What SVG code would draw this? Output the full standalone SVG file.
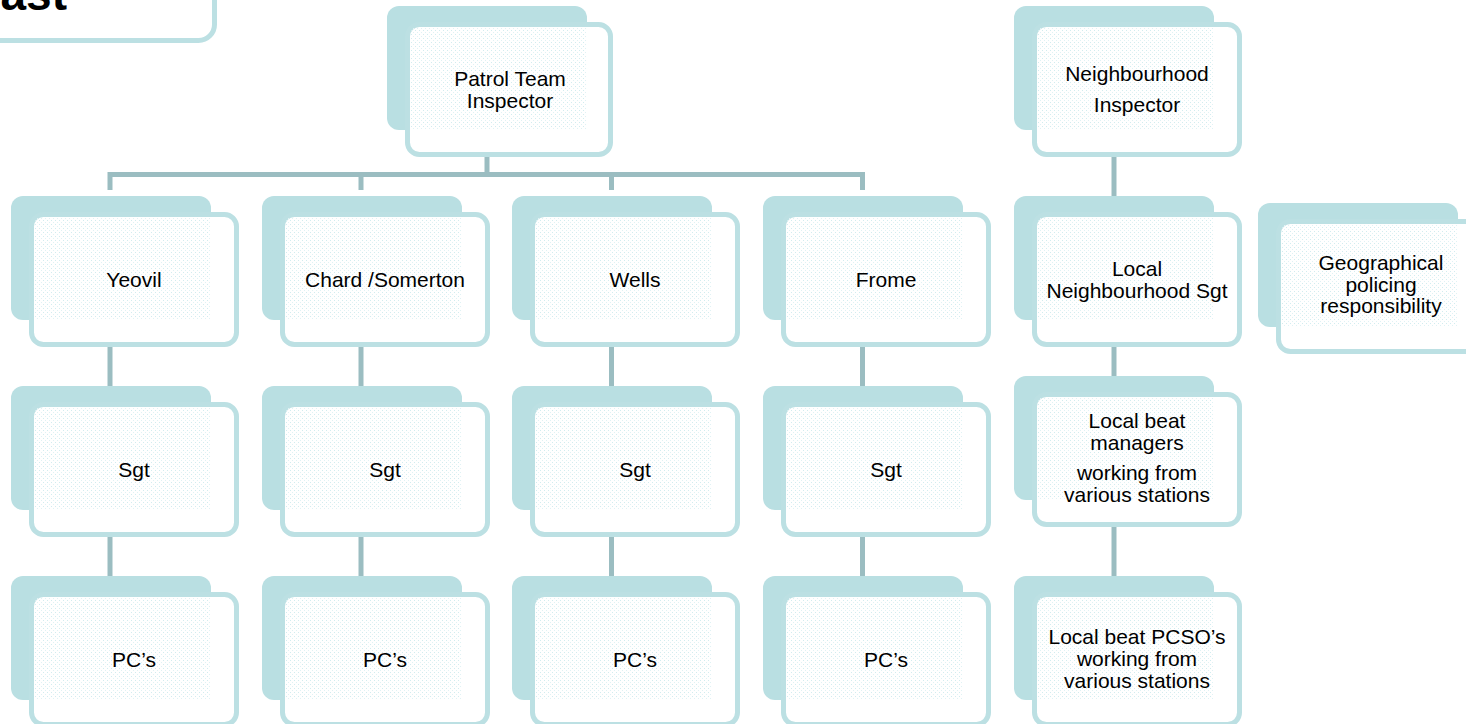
<svg xmlns="http://www.w3.org/2000/svg" width="1466" height="724" viewBox="0 0 1466 724">
<style>
.back{fill:#B9DFE2;}
.front{fill:#FFFFFF;stroke:#BCE0E3;stroke-width:5;}
.tex{fill:url(#dots);}
.lbl{font-family:"Liberation Sans",Arial,sans-serif;font-size:21px;fill:#000;text-anchor:middle;}
.conn{fill:none;stroke:#9BBDC1;stroke-width:5;stroke-linejoin:miter;}
.title{font-family:"Liberation Sans",Arial,sans-serif;font-size:46px;font-weight:bold;fill:#000;text-anchor:end;}
</style>
<defs>
<pattern id="dots" patternUnits="userSpaceOnUse" width="4" height="4">
<rect x="0" y="0" width="1" height="1" fill="#D2ECEF"/>
<rect x="2" y="2" width="1" height="1" fill="#E0F2F4"/>
</pattern>
</defs>
<rect width="1466" height="724" fill="#FFFFFF"/>
<g id="title">
<rect x="-30" y="-100" width="244.5" height="140.5" rx="16" fill="#FFFFFF" stroke="#BCE0E3" stroke-width="5"/>
<text class="title" x="67" y="10">ast</text>
</g>
<g id="connectors">
<path class="conn" d="M487,155 V174.5"/>
<path class="conn" d="M110,190 V174.5 H862.5 V190"/>
<path class="conn" d="M361,174.5 V190"/>
<path class="conn" d="M611.5,174.5 V190"/>
<path class="conn" d="M110,347 V386 M110,537 V576"/>
<path class="conn" d="M361,347 V386 M361,537 V576"/>
<path class="conn" d="M611.5,347 V386 M611.5,537 V576"/>
<path class="conn" d="M862.5,347 V386 M862.5,537 V576"/>
<path class="conn" d="M1114,157 V196 M1114,347 V376 M1114,527 V576"/>
</g>
<g id="patrol" transform="translate(387,6)">
<rect class="back" width="200" height="124" rx="12"/>
<rect class="front" x="20.5" y="18.5" width="203" height="130" rx="12"/>
<rect class="tex" x="23" y="21" width="177" height="103"/>
<text class="lbl" x="123" y="80">Patrol Team</text>
<text class="lbl" x="123" y="102">Inspector</text>
</g>
<g id="yeovil" transform="translate(11,196)">
<rect class="back" width="200" height="124" rx="12"/>
<rect class="front" x="20.5" y="18.5" width="205" height="130" rx="12"/>
<rect class="tex" x="23" y="21" width="177" height="103"/>
<text class="lbl" x="123" y="91">Yeovil</text>
</g>
<g id="chard" transform="translate(262,196)">
<rect class="back" width="200" height="124" rx="12"/>
<rect class="front" x="20.5" y="18.5" width="205" height="130" rx="12"/>
<rect class="tex" x="23" y="21" width="177" height="103"/>
<text class="lbl" x="123" y="91">Chard /Somerton</text>
</g>
<g id="wells" transform="translate(512,196)">
<rect class="back" width="200" height="124" rx="12"/>
<rect class="front" x="20.5" y="18.5" width="205" height="130" rx="12"/>
<rect class="tex" x="23" y="21" width="177" height="103"/>
<text class="lbl" x="123" y="91">Wells</text>
</g>
<g id="frome" transform="translate(763,196)">
<rect class="back" width="200" height="124" rx="12"/>
<rect class="front" x="20.5" y="18.5" width="205" height="130" rx="12"/>
<rect class="tex" x="23" y="21" width="177" height="103"/>
<text class="lbl" x="123" y="91">Frome</text>
</g>
<g id="sgt-yeovil" transform="translate(11,386)">
<rect class="back" width="200" height="124" rx="12"/>
<rect class="front" x="20.5" y="18.5" width="205" height="130" rx="12"/>
<rect class="tex" x="23" y="21" width="177" height="103"/>
<text class="lbl" x="123" y="91">Sgt</text>
</g>
<g id="sgt-chard" transform="translate(262,386)">
<rect class="back" width="200" height="124" rx="12"/>
<rect class="front" x="20.5" y="18.5" width="205" height="130" rx="12"/>
<rect class="tex" x="23" y="21" width="177" height="103"/>
<text class="lbl" x="123" y="91">Sgt</text>
</g>
<g id="sgt-wells" transform="translate(512,386)">
<rect class="back" width="200" height="124" rx="12"/>
<rect class="front" x="20.5" y="18.5" width="205" height="130" rx="12"/>
<rect class="tex" x="23" y="21" width="177" height="103"/>
<text class="lbl" x="123" y="91">Sgt</text>
</g>
<g id="sgt-frome" transform="translate(763,386)">
<rect class="back" width="200" height="124" rx="12"/>
<rect class="front" x="20.5" y="18.5" width="205" height="130" rx="12"/>
<rect class="tex" x="23" y="21" width="177" height="103"/>
<text class="lbl" x="123" y="91">Sgt</text>
</g>
<g id="pc-yeovil" transform="translate(11,576)">
<rect class="back" width="200" height="124" rx="12"/>
<rect class="front" x="20.5" y="18.5" width="205" height="130" rx="12"/>
<rect class="tex" x="23" y="21" width="177" height="103"/>
<text class="lbl" x="123" y="91">PC’s</text>
</g>
<g id="pc-chard" transform="translate(262,576)">
<rect class="back" width="200" height="124" rx="12"/>
<rect class="front" x="20.5" y="18.5" width="205" height="130" rx="12"/>
<rect class="tex" x="23" y="21" width="177" height="103"/>
<text class="lbl" x="123" y="91">PC’s</text>
</g>
<g id="pc-wells" transform="translate(512,576)">
<rect class="back" width="200" height="124" rx="12"/>
<rect class="front" x="20.5" y="18.5" width="205" height="130" rx="12"/>
<rect class="tex" x="23" y="21" width="177" height="103"/>
<text class="lbl" x="123" y="91">PC’s</text>
</g>
<g id="pc-frome" transform="translate(763,576)">
<rect class="back" width="200" height="124" rx="12"/>
<rect class="front" x="20.5" y="18.5" width="205" height="130" rx="12"/>
<rect class="tex" x="23" y="21" width="177" height="103"/>
<text class="lbl" x="123" y="91">PC’s</text>
</g>
<g id="nbh-inspector" transform="translate(1014,6)">
<rect class="back" width="200" height="124" rx="12"/>
<rect class="front" x="20.5" y="18.5" width="205" height="130" rx="12"/>
<rect class="tex" x="23" y="21" width="177" height="103"/>
<text class="lbl" x="123" y="75">Neighbourhood</text>
<text class="lbl" x="123" y="106">Inspector</text>
</g>
<g id="nbh-sgt" transform="translate(1014,196)">
<rect class="back" width="200" height="124" rx="12"/>
<rect class="front" x="20.5" y="18.5" width="205" height="130" rx="12"/>
<rect class="tex" x="23" y="21" width="177" height="103"/>
<text class="lbl" x="123" y="79.5">Local</text>
<text class="lbl" x="123" y="101.5">Neighbourhood Sgt</text>
</g>
<g id="beat-managers" transform="translate(1014,376)">
<rect class="back" width="200" height="124" rx="12"/>
<rect class="front" x="20.5" y="18.5" width="205" height="130" rx="12"/>
<rect class="tex" x="23" y="21" width="177" height="103"/>
<text class="lbl" x="123" y="52">Local beat</text>
<text class="lbl" x="123" y="73.5">managers</text>
<text class="lbl" x="123" y="104">working from</text>
<text class="lbl" x="123" y="126">various stations</text>
</g>
<g id="beat-pcso" transform="translate(1014,576)">
<rect class="back" width="200" height="124" rx="12"/>
<rect class="front" x="20.5" y="18.5" width="205" height="130" rx="12"/>
<rect class="tex" x="23" y="21" width="177" height="103"/>
<text class="lbl" x="123" y="68">Local beat PCSO’s</text>
<text class="lbl" x="123" y="90">working from</text>
<text class="lbl" x="123" y="112">various stations</text>
</g>
<g id="geographical" transform="translate(1258,203)">
<rect class="back" width="200" height="124" rx="12"/>
<rect class="front" x="20.5" y="18.5" width="205" height="130" rx="12"/>
<rect class="tex" x="23" y="21" width="177" height="103"/>
<text class="lbl" x="123" y="67">Geographical</text>
<text class="lbl" x="123" y="89">policing</text>
<text class="lbl" x="123" y="110">responsibility</text>
</g>
</svg>
